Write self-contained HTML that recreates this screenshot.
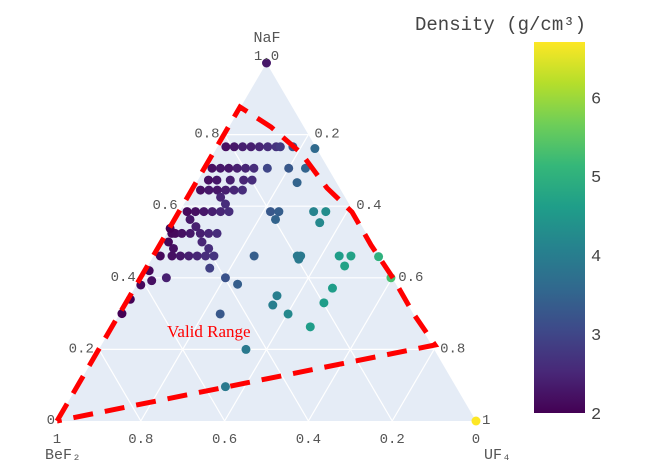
<!DOCTYPE html>
<html><head><meta charset="utf-8"><style>
html,body{margin:0;padding:0;background:#fff;}
svg{display:block;font-family:"Liberation Mono",monospace;}
</style></head><body>
<svg id="chart" width="646" height="471" viewBox="0 0 646 471">
<defs>
<linearGradient id="vir" x1="0" y1="1" x2="0" y2="0">
<stop offset="0" stop-color="#440154"/><stop offset="0.111" stop-color="#482878"/><stop offset="0.222" stop-color="#3e4989"/><stop offset="0.333" stop-color="#31688e"/><stop offset="0.444" stop-color="#26828e"/><stop offset="0.556" stop-color="#1f9e89"/><stop offset="0.667" stop-color="#35b779"/><stop offset="0.778" stop-color="#6ece58"/><stop offset="0.889" stop-color="#b5de2b"/><stop offset="1" stop-color="#fde725"/>
</linearGradient>
</defs>
<g id="tri"></g>
<g id="grid"></g>
<g id="pts"></g>
<g id="labels"></g>
<polyline fill="none" stroke="#ff0000" stroke-width="5" stroke-dasharray="20,12"
 points="57,421 240,107 271,127 301,153 327,188 352,212 371,245 393,278 413,313 435,345 57,421"/>
<text x="167" y="337" fill="#ff0000" font-family="'Liberation Serif',serif" font-size="17">Valid Range</text>
<text x="415" y="30" font-size="19" fill="#444">Density (g/cm³)</text>
<rect x="534" y="42" width="51" height="371" fill="url(#vir)"/>
<g id="cbticks"></g>
</svg>
<script>
const naf=[0.766,0.766,0.766,0.766,0.766,0.766,0.766,0.766,0.766,0.761,
0.706,0.706,0.706,0.706,0.706,0.706,0.706,0.706,0.706,
0.673,0.673,0.673,0.673,0.673,0.666,
0.645,0.645,0.645,0.645,0.645,0.645,0.625,0.606,
0.585,0.585,0.585,0.585,0.585,0.585,0.585,0.585,0.563,0.585,0.585,0.554,0.563,0.543,
0.524,0.524,0.524,0.524,0.524,0.524,0.524,0.538,0.5,0.5,0.482,0.482,
0.461,0.461,0.461,0.461,0.461,0.461,0.461,0.461,0.461,0.461,0.452,0.461,0.461,0.433,0.459,
0.427,0.40,0.392,0.40,0.382,0.35,0.324,0.299,0.299,0.371,0.33,0.263,0.2,0.096,
0.42,0.38,0.34,0.30,0.40,1.0,0.0];
const uf4=[0.02,0.04,0.06,0.08,0.10,0.12,0.14,0.15,0.18,0.235,
0.017,0.037,0.057,0.077,0.097,0.117,0.149,0.2,0.24,
0.025,0.045,0.077,0.109,0.129,0.24,
0.02,0.04,0.06,0.08,0.10,0.12,0.078,0.099,
0.018,0.038,0.058,0.078,0.098,0.118,0.217,0.237,0.24,0.32,0.349,0.35,0.036,0.06,
0.012,0.02,0.036,0.056,0.08,0.1,0.12,0.001,0.016,0.096,0.037,0.121,
0.016,0.044,0.064,0.084,0.104,0.124,0.144,0.24,0.343,0.351,0.351,0.443,0.471,0.47,0.538,
0.151,0.061,0.03,0.202,0.24,0.35,0.353,0.402,0.24,0.472,0.472,0.473,0.351,0.354,
0.01,0.01,0.005,0.005,0.597,0.0,1.0];
const density=[2.2,2.3,2.4,2.4,2.5,2.6,2.7,2.8,3.2,3.6,
2.2,2.3,2.3,2.4,2.5,2.6,3.0,3.3,3.5,
2.2,2.3,2.4,2.5,2.6,3.5,
2.2,2.3,2.3,2.4,2.5,2.6,2.5,2.6,
2.1,2.2,2.3,2.4,2.5,2.6,3.3,3.4,3.5,4.1,4.3,4.2,2.3,2.4,
2.1,2.1,2.2,2.3,2.4,2.5,2.6,2.0,2.1,2.5,2.2,2.6,
2.1,2.2,2.3,2.4,2.5,2.6,2.7,3.4,3.9,3.9,3.9,4.6,4.7,4.7,5.0,
2.9,2.4,2.2,3.2,3.4,4.0,4.0,4.2,3.3,4.6,4.6,4.6,3.9,3.9,
2.1,2.1,2.0,2.0,5.3,2.3,6.7];
const cbTicks=[2,3,4,5,6];
const gridVals=[0.2,0.4,0.6,0.8];
const bottomLabels=["1","0.8","0.6","0.4","0.2","0"];

const NS="http://www.w3.org/2000/svg";
const Bx=57,By=421,W=419,H=358;
function px(a,c){return [Bx+(c+a/2)*W, By-a*H];}
const dMin=2,dMax=6.7;
const vir=["#440154","#482878","#3e4989","#31688e","#26828e","#1f9e89","#35b779","#6ece58","#b5de2b","#fde725"];
function hex(h){return [1,3,5].map(i=>parseInt(h.substr(i,2),16));}
function color(d){let t=Math.max(0,Math.min(1,(d-dMin)/(dMax-dMin)))*(vir.length-1);let i=Math.min(vir.length-2,Math.floor(t)),f=t-i;
const a=hex(vir[i]),b=hex(vir[i+1]);return "rgb("+a.map((v,k)=>Math.round(v+(b[k]-v)*f)).join(",")+")";}
function mk(tag,attrs,parent){const e=document.createElementNS(NS,tag);for(const k in attrs)e.setAttribute(k,attrs[k]);parent.appendChild(e);return e;}
const tri=document.getElementById('tri');
const A=px(1,0),B=px(0,0),C=px(0,1);
const bg=mk('polygon',{points:[A,B,C].map(p=>p.join(',')).join(' '),fill:'#e5ecf6'},tri);


const grid=document.getElementById('grid');
gridVals.forEach(v=>{
  let p1=px(v,0),p2=px(v,1-v);
  let l=mk('line',{x1:p1[0],y1:p1[1],x2:p2[0],y2:p2[1],stroke:'#fff','stroke-width':1.2},grid);
  
  
  p1=px(0,v);p2=px(1-v,v);
  l=mk('line',{x1:p1[0],y1:p1[1],x2:p2[0],y2:p2[1],stroke:'#fff','stroke-width':1.2},grid);
  
  
  p1=px(0,1-v);p2=px(1-v,0);
  l=mk('line',{x1:p1[0],y1:p1[1],x2:p2[0],y2:p2[1],stroke:'#fff','stroke-width':1.2},grid);
  
  
});
const pts=document.getElementById('pts');
for(let i=0;i<naf.length;i++){
  const p=px(naf[i],uf4[i]);
  const c=mk('circle',{cx:p[0],cy:p[1],r:4.5,fill:color(density[i])},pts);
  
  
}
const lab=document.getElementById('labels');
function txt(x,y,s,anchor,size,name){const t=mk('text',{x:x,y:y,'text-anchor':anchor,'font-size':size,fill:'#555'},lab);t.textContent=s;

return t;}
bottomLabels.forEach((s,i)=>{const p=px(0,i/5);txt(p[0],443,s,'middle',14,'bef2-tick-label');});
gridVals.forEach(v=>{const p=px(v,0);txt(p[0]-5,p[1]+3,v.toFixed(1),'end',14,'naf-tick-label');});
txt(A[0],A[1]-3,"1.0",'middle',14,'naf-tick-label');
txt(B[0]-2,B[1]+3,"0",'end',14,'naf-tick-label');
gridVals.forEach(v=>{const p=px(1-v,v);txt(p[0]+6,p[1]+3,v.toFixed(1),'start',14,'uf4-tick-label');});
txt(C[0]+6,C[1]+3,"1",'start',14,'uf4-tick-label');
txt(267,42,"NaF",'middle',15,'naf-axis-title');
txt(45,459,"BeF₂",'start',15,'bef2-axis-title');
txt(484,459,"UF₄",'start',15,'uf4-axis-title');
const cb=document.getElementById('cbticks');
cbTicks.forEach(v=>{const y=42+371*(1-(v-dMin)/(dMax-dMin));
  const t=mk('text',{x:591,y:y+6,'font-size':17,fill:'#444'},cb);t.textContent=v;
  
  });
</script>
</body></html>
